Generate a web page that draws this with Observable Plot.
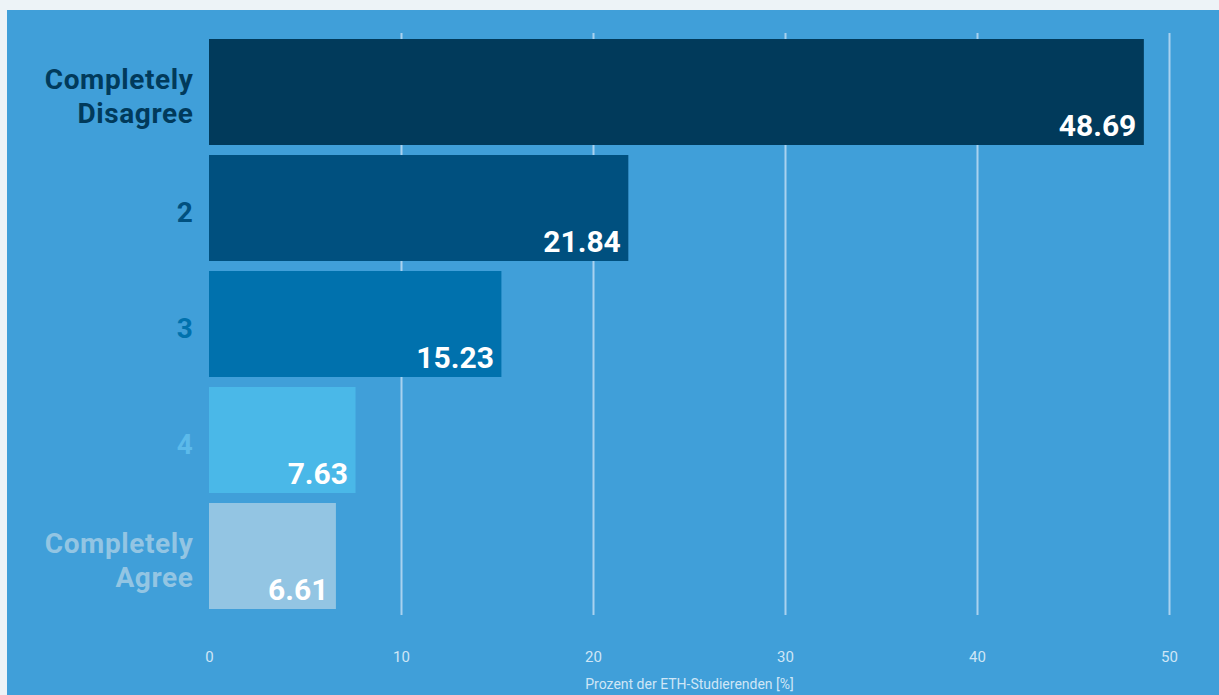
<!DOCTYPE html>
<html>
<head>
<meta charset="utf-8">
<script src="https://cdn.jsdelivr.net/npm/d3@7"></script>
<script src="https://cdn.jsdelivr.net/npm/@observablehq/plot@0.6"></script>
<style>
  html, body { margin: 0; padding: 0; background: #edf3f7; }
  #frame { position: absolute; left: 7px; top: 10px; width: 1212px; height: 685px; background: #409fd9; overflow: hidden; }
  svg { display: block; }
  .cats text { letter-spacing: 0.6px; }
</style>
</head>
<body>
<div id="frame"></div>
<script>
const categories = ["Completely\nDisagree", "2", "3", "4", "Completely\nAgree"];
const values = [48.69, 21.84, 15.23, 7.63, 6.61];
const barColors = ["#013a5b", "#00507f", "#0071ad", "#4ab8e8", "#93c5e3"];
const labelColors = ["#013a5b", "#00507f", "#0071ad", "#5cbaea", "#93c5e3"];
const xTicks = [0, 10, 20, 30, 40, 50];
const xLabel = "Prozent der ETH-Studierenden [%]";

const data = categories.map((c, i) => ({cat: c, value: values[i], bar: barColors[i], lab: labelColors[i]}));

const chart = Plot.plot({
  width: 1212,
  height: 685,
  marginLeft: 202,
  marginRight: 50,
  marginTop: 23,
  marginBottom: 80,
  style: {background: "transparent", fontFamily: "Roboto, sans-serif"},
  x: {domain: [0, 50], ticks: xTicks},
  y: {domain: categories, paddingInner: 0.09, paddingOuter: 0.045, axis: null},
  color: {type: "identity"},
  marks: [
    Plot.gridX(xTicks.filter(t => t > 0), {stroke: "#a9d2ef", strokeOpacity: 1, strokeWidth: 2}),
    Plot.barX(data, {x: "value", y: "cat", fill: "bar"}),
    Plot.text(data, {x: "value", y: "cat", text: d => d.value.toFixed(2), textAnchor: "end", dx: -8, dy: 34, fill: "#ffffff", fontSize: 30, fontWeight: "bold"}),
    Plot.text(data, {x: 0, y: "cat", text: "cat", textAnchor: "end", dx: -16, dy: 3, fill: "lab", fontSize: 28, fontWeight: "bold", lineHeight: 1.2, className: "cats"}),
    Plot.axisX({ticks: xTicks, tickSize: 0, tickPadding: 36, fontSize: 15, color: "#cfe6f6", label: null}),
    Plot.text([xLabel], {frameAnchor: "bottom", dy: 73, text: d => d, fill: "#cfe6f6", fontSize: 14})
  ]
});
document.getElementById("frame").appendChild(chart);
</script>
</body>
</html>
